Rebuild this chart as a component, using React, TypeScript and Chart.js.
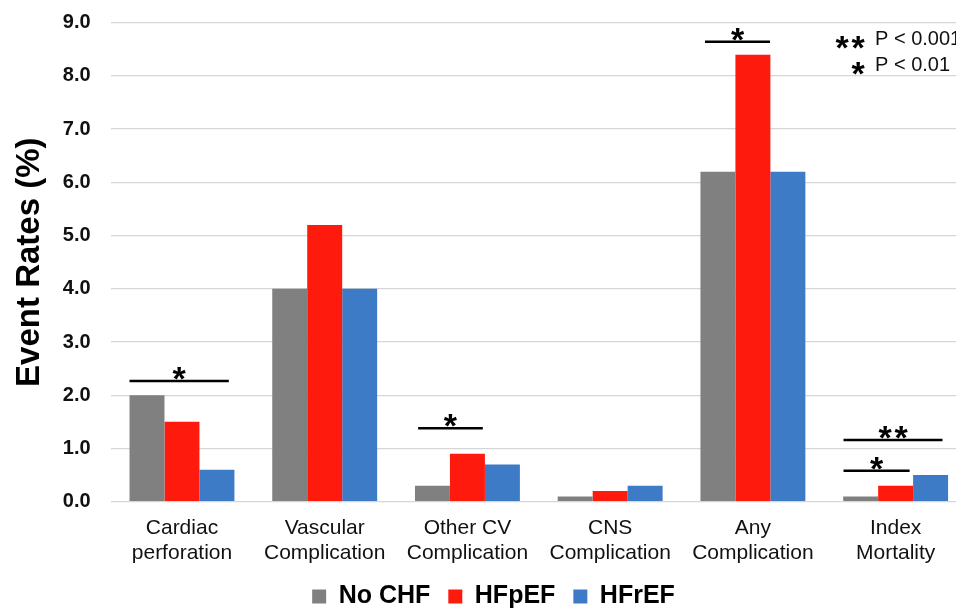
import { useEffect, useRef } from "react";
import { Chart, registerables } from "chart.js";

Chart.register(...registerables);

const categories: string[][] = [
  ["Cardiac", "perforation"],
  ["Vascular", "Complication"],
  ["Other CV", "Complication"],
  ["CNS", "Complication"],
  ["Any", "Complication"],
  ["Index", "Mortality"],
];
const seriesNames = ["No CHF", "HFpEF", "HFrEF"];
const noChf = [2.0, 4.0, 0.3, 0.1, 6.2, 0.1];
const hfpef = [1.5, 5.2, 0.9, 0.2, 8.4, 0.3];
const hfref = [0.6, 4.0, 0.7, 0.3, 6.2, 0.5];
const seriesColors = ["#808080", "#FE1B0E", "#3E7BC6"];
const yMin = 0;
const yMax = 9;
const yStep = 1;

// significance brackets: category, start/end in bar widths from group centre, level (%), stars
const sigCategory = [0, 2, 4, 5, 5];
const sigFrom = [-1.5, -1.41, -1.37, -1.49, -1.49];
const sigTo = [1.34, 0.44, 0.49, 1.34, 0.4];
const sigLevel = [2.27, 1.38, 8.64, 1.16, 0.58];
const sigStars = ["*", "*", "*", "**", "*"];

const noteStars = ["**", "*"];
const noteTexts = ["P < 0.001", "P < 0.01"];

const FONT = "'Liberation Sans', Arial, Helvetica, sans-serif";

function drawStars(ctx: CanvasRenderingContext2D, stars: string, cx: number, baseline: number) {
  const n = stars.length;
  ctx.font = `bold 34px ${FONT}`;
  ctx.textAlign = "center";
  ctx.textBaseline = "alphabetic";
  for (let k = 0; k < n; k++) {
    ctx.fillText("*", cx + (k - (n - 1) / 2) * 16, baseline);
  }
}

const annotationPlugin = {
  id: "sigAnnotations",
  afterDatasetsDraw(chart: any) {
    const ctx: CanvasRenderingContext2D = chart.ctx;
    const xs = chart.scales.x;
    const ys = chart.scales.y;
    const meta = chart.getDatasetMeta(0);
    ctx.save();
    ctx.fillStyle = "#000";
    ctx.strokeStyle = "#000";
    sigCategory.forEach((cat, i) => {
      const c = xs.getPixelForValue(cat);
      const bw = meta.data[cat].width;
      const x1 = c + sigFrom[i] * bw;
      const x2 = c + sigTo[i] * bw;
      const yy = ys.getPixelForValue(sigLevel[i]);
      ctx.beginPath();
      ctx.lineWidth = 2.5;
      ctx.moveTo(x1, yy);
      ctx.lineTo(x2, yy);
      ctx.stroke();
      drawStars(ctx, sigStars[i], (x1 + x2) / 2, yy + 9);
    });
    const area = chart.chartArea;
    noteTexts.forEach((t, i) => {
      const base = area.top + 22.3 + i * 26;
      drawStars(ctx, noteStars[i], area.right - 117 + (noteStars[i].length === 1 ? 8 : 0), base + 14);
      ctx.font = `20px ${FONT}`;
      ctx.textAlign = "left";
      ctx.textBaseline = "alphabetic";
      ctx.fillStyle = "#111";
      ctx.fillText(t, area.right - 92, base);
      ctx.fillStyle = "#000";
    });
    ctx.restore();
  },
};

export default function App() {
  const ref = useRef<HTMLCanvasElement>(null);
  useEffect(() => {
    document.body.style.margin = "0";
    const canvas = ref.current;
    if (!canvas) return;
    const chart = new Chart(canvas, {
      type: "bar",
      data: {
        labels: categories,
        datasets: [noChf, hfpef, hfref].map((d, i) => ({
          label: seriesNames[i],
          data: d,
          backgroundColor: seriesColors[i],
          borderWidth: 0,
          categoryPercentage: 0.735,
          barPercentage: 1,
        })),
      },
      options: {
        animation: false,
        responsive: false,
        devicePixelRatio: 1,
        layout: { padding: { top: 22.7, right: 1, left: 20, bottom: 0 } },
        plugins: {
          legend: {
            position: "bottom",
            labels: {
              boxWidth: 14,
              boxHeight: 14,
              padding: 18,
              color: "#000",
              font: { family: FONT, size: 25, weight: "bold" },
            },
          },
          tooltip: { enabled: false },
        },
        scales: {
          x: {
            grid: { display: false, drawTicks: false },
            border: { display: false },
            ticks: {
              color: "#111",
              padding: 14,
              maxRotation: 0,
              autoSkip: false,
              font: { family: FONT, size: 21, lineHeight: 25 / 21 },
            },
            afterFit: (s: any) => {
              s.height = 64.3;
            },
          },
          y: {
            min: yMin,
            max: yMax,
            grid: { color: "#d6d6d6", lineWidth: 1.3, drawTicks: false },
            border: { display: false },
            ticks: {
              stepSize: yStep,
              color: "#111",
              padding: 20,
              font: { family: FONT, size: 20, weight: "bold" },
              callback: (v: any) => Number(v).toFixed(1),
            },
            title: {
              display: true,
              text: "Event Rates (%)",
              color: "#000",
              padding: { top: 0, bottom: 0 },
              font: { family: FONT, size: 33, weight: "bold", lineHeight: 0.6 },
            },
            afterFit: (s: any) => {
              s.width = 90.6;
              s.paddingTop = 0;
              s.paddingBottom = 0;
            },
          },
        },
      },
      plugins: [annotationPlugin],
    });
    return () => chart.destroy();
  }, []);
  return (
    <div style={{ position: "absolute", left: 0, top: 0, width: 956, height: 609, overflow: "hidden", background: "#fff" }}>
      <canvas ref={ref} width={968} height={619} style={{ display: "block", width: 968, height: 619 }} />
    </div>
  );
}
